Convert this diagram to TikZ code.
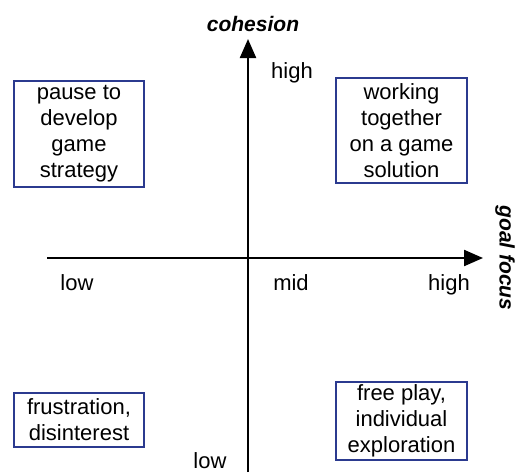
\documentclass[tikz,border=0pt]{standalone}
\usepackage{fontspec}
\setmainfont{Liberation Sans}
\usetikzlibrary{arrows.meta}
\definecolor{boxblue}{HTML}{2B3A8F}
\begin{document}
\begin{tikzpicture}[x=1pt,y=-1pt,
  axis/.style={line width=2.2pt,-{Triangle[length=19pt,width=16pt]}},
  qbox/.style={draw=boxblue,line width=1.6pt,align=center,inner sep=0pt,
    font=\fontsize{22}{26}\selectfont},
  lab/.style={anchor=base,inner sep=0pt,font=\fontsize{22}{26}\selectfont},
  axtitle/.style={inner sep=0pt,font=\fontsize{21}{25}\selectfont\bfseries\itshape}]
\useasboundingbox[fill=white] (0,0) rectangle (519,472);
\coordinate (vbot) at (248,472);
\coordinate (vtop) at (248,39);
\coordinate (hl) at (47,258);
\coordinate (hr) at (483,258);
\draw[axis] (vbot) -- (vtop);
\draw[axis] (hl) -- (hr);
\node[axtitle,anchor=base] (coh) at (253,31) {cohesion};
\node[axtitle,rotate=-90] (goal) at (505,258) {goal focus};
\node[lab] (vhigh) at (292,78) {high};
\node[lab] (hlow) at (77,290) {low};
\node[lab] (hmid) at (291,290) {mid};
\node[lab] (hhigh) at (449,290) {high};
\node[lab] (vlow) at (210,468) {low};
\node[qbox,minimum width=130pt,minimum height=106pt] (tl) at (79,134) {pause to\\develop\\game\\strategy};
\node[qbox,minimum width=131pt,minimum height=105pt] (tr) at (401.5,130.5) {working\\together\\on a game\\solution};
\node[qbox,minimum width=130pt,minimum height=54pt] (bl) at (79,420) {frustration,\\disinterest};
\node[qbox,minimum width=131pt,minimum height=78pt] (br) at (401.5,421) {free play,\\individual\\exploration};
\end{tikzpicture}
\end{document}
